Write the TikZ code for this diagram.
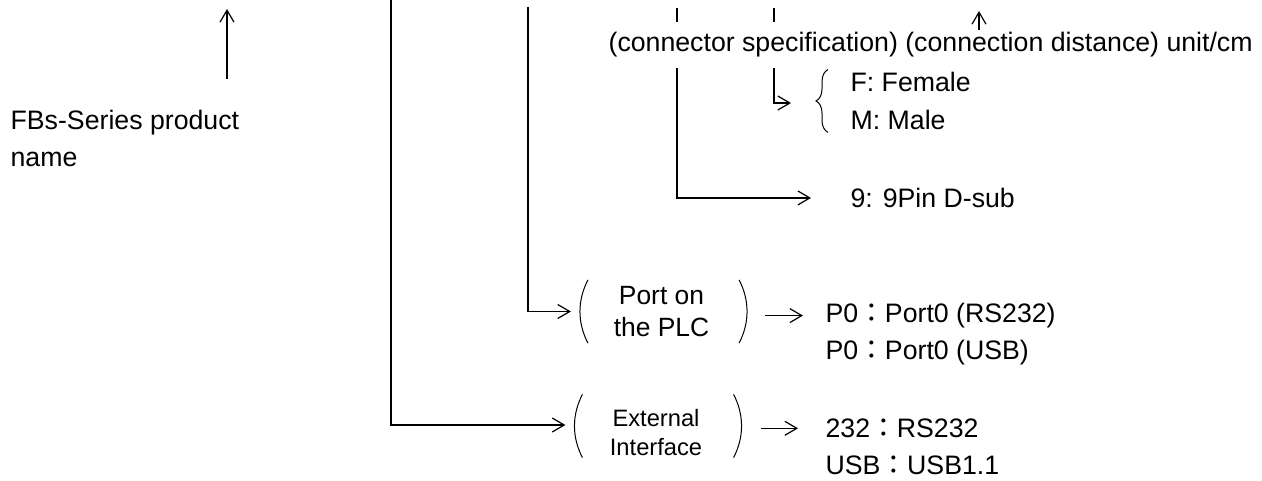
\documentclass[tikz,border=0pt]{standalone}
\usepackage{fontspec}
\setmainfont{Liberation Sans}
\newfontfamily\cjk{Noto Sans CJK TC}
\usetikzlibrary{arrows.meta,decorations.pathreplacing}

\tikzset{
    txt/.style={font=\fontsize{13.35}{18.5}\selectfont, inner sep=0pt, anchor=base west},
    group/.style={inner sep=0pt, align=center, minimum width=90pt, minimum height=31pt},
    conn/.style={-{Straight Barb[length=6pt,width=7pt]}},
}

\begin{document}
\begin{tikzpicture}[x=0.5pt, y=-0.5pt, line width=0.6pt]
    \useasboundingbox (0,0) rectangle (1262,481);

    \node[txt, anchor=west, align=left] (prod) at (10,138) {FBs-Series product\\name};
    \node[txt] (spec) at (608,52) {(connector specification) (connection distance) unit/cm};
    \node[txt] (fem) at (850,91.5) {F: Female};
    \node[txt] (male) at (850,129.5) {M: Male};
    \node[txt] (pin) at (850,207.5) {9: 9Pin D-sub};
    \node[group, font=\fontsize{13.2}{16}\selectfont] (port) at (661.5,311.5) {Port on\\the PLC};
    \node[group, font=\fontsize{11.85}{14.5}\selectfont] (ext) at (656,432.5) {External\\Interface};
    \node[txt] (p0a) at (825,322.5) {P0{\cjk ：}Port0 (RS232)};
    \node[txt] (p0b) at (825,359.5) {P0{\cjk ：}Port0 (USB)};
    \node[txt] (e232) at (825,437.5) {232{\cjk ：}RS232};
    \node[txt] (eusb) at (825,474.5) {USB{\cjk ：}USB1.1};

    \coordinate (prodhead) at (227,9);
    \coordinate (top1) at (391,0);
    \coordinate (top2) at (528,7);
    \coordinate (tick1) at (677,8);
    \coordinate (tick2) at (774,8);
    \coordinate (dist) at (979,11);
    \coordinate (fmtip) at (791,103);

    \draw[conn, shorten <=15pt] (prodhead |- prod.north) -- (prodhead);
    \draw[conn] (top1) |- ([yshift=3.75pt]ext.west);
    \draw[conn] (top2) |- (port.west);
    \draw[shorten >=5pt] (tick1) -- (tick1 |- spec.north);
    \draw[shorten >=5pt] (tick2) -- (tick2 |- spec.north);
    \draw[conn, shorten <=1pt] (dist |- spec.north) -- (dist);
    \draw[conn, shorten <=5pt, shorten >=19.5pt] (tick1 |- spec.south) |- (pin.west);
    \draw[conn, shorten <=5pt] (tick2 |- spec.south) |- (fmtip);
    \draw[decorate, decoration={brace, amplitude=6pt}, line width=0.5pt]
        ([xshift=-11pt,yshift=-1pt]male.south west) -- ([xshift=-11pt,yshift=1pt]fem.north west);

    \foreach \g/\dy in {port/0pt, ext/3.25pt} {
        \draw[line width=0.5pt] ([xshift=8.5pt,yshift=\dy]\g.north west) .. controls +(-5.3pt,-10.3pt) and +(-5.3pt,10.3pt) .. ([xshift=8.5pt,yshift=\dy]\g.south west);
        \draw[line width=0.5pt] ([xshift=-6.5pt,yshift=\dy]\g.north east) .. controls +(5.3pt,-10.3pt) and +(5.3pt,10.3pt) .. ([xshift=-6.5pt,yshift=\dy]\g.south east);
    }

    \draw[conn, shorten <=6.5pt, shorten >=11pt] (port.east |- p0a.west) -- (p0a.west);
    \draw[conn, shorten <=7pt, shorten >=13.5pt] (ext.east |- e232.west) -- (e232.west);
\end{tikzpicture}
\end{document}
